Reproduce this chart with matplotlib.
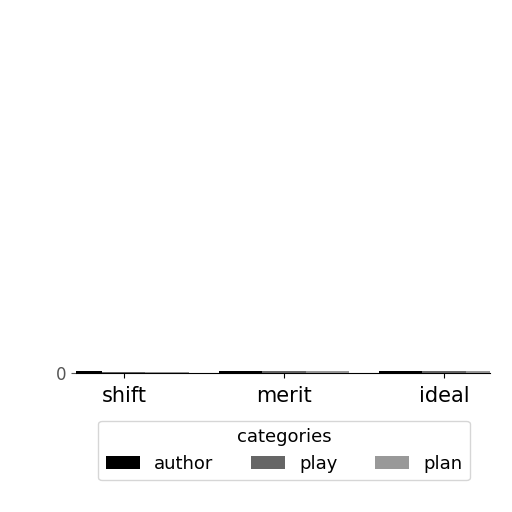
import matplotlib.pyplot as plt
import numpy as np

groups = ['shift', 'merit', 'ideal']
series = ['author', 'play', 'plan']
author = [6, 8, 7]
play = [4, 5, 6]
plan = [3, 6, 5]
colors = ['#000000', '#666666', '#999999']

fig = plt.figure(figsize=(5.12, 5.12), dpi=100)
ax = fig.add_axes([0.148, 0.272, 0.81, 0.004])

x = np.arange(len(groups))
w = 0.27
for i, (name, vals) in enumerate(zip(series, [author, play, plan])):
    ax.bar(x + (i - 1) * w, vals, w, color=colors[i], label=name)

ax.set_xlim(-0.3, 2.29)
ax.set_ylim(0, max(author))
ax.set_yticks([0])
ax.set_xticks(x)
ax.set_xticklabels(groups, fontsize=15)
ax.tick_params(axis='x', pad=6)
ax.tick_params(axis='y', labelsize=12, colors='#555555')
for s in ['top', 'right', 'left']:
    ax.spines[s].set_visible(False)

leg = fig.legend(loc='upper center', bbox_to_anchor=(0.555, 0.178), ncol=3,
                 title='categories', fontsize=13, title_fontsize=13,
                 frameon=True, handlelength=1.9, columnspacing=2.05,
                 borderaxespad=0)
leg.get_frame().set_edgecolor('#cccccc')

fig.savefig('out.png', dpi=100)
